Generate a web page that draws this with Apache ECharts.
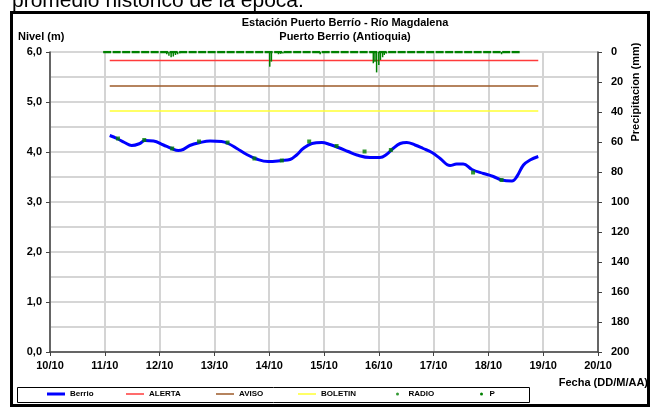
<!DOCTYPE html>
<html>
<head>
<meta charset="utf-8">
<script src="https://cdn.jsdelivr.net/npm/echarts@6/dist/echarts.min.js"></script>
<style>
  html, body { margin: 0; padding: 0; background: #fff; }
  #chart { width: 650px; height: 407px; }
</style>
</head>
<body>
<div id="chart"></div>
<script>
// nivel Berrio (dia del mes, metros)
const berrioDays = [11.09, 11.22, 11.36, 11.49, 11.64, 11.73, 11.89, 12.07, 12.22, 12.34, 12.43, 12.55, 12.74, 12.92, 13.13, 13.25, 13.41, 13.59, 13.77, 13.98, 14.23, 14.38, 14.5, 14.62, 14.78, 14.96, 15.11, 15.26, 15.44, 15.6, 15.84, 16.02, 16.14, 16.26, 16.39, 16.51, 16.66, 16.81, 16.97, 17.12, 17.3, 17.42, 17.54, 17.7, 17.91, 18.09, 18.24, 18.43, 18.52, 18.64, 18.76, 18.91]
const berrioVals = [4.33, 4.27, 4.19, 4.13, 4.17, 4.23, 4.22, 4.14, 4.07, 4.03, 4.05, 4.13, 4.19, 4.22, 4.21, 4.17, 4.07, 3.95, 3.86, 3.81, 3.83, 3.85, 3.94, 4.07, 4.17, 4.19, 4.15, 4.09, 4.01, 3.94, 3.89, 3.89, 3.95, 4.07, 4.17, 4.19, 4.14, 4.07, 3.99, 3.87, 3.73, 3.76, 3.76, 3.65, 3.57, 3.51, 3.44, 3.42, 3.51, 3.74, 3.84, 3.91]

// lecturas RADIO
const radioDays = [11.24, 11.72, 12.23, 12.72, 13.24, 13.73, 14.23, 14.73, 15.23, 15.74, 16.22, 17.72, 18.24]
const radioVals = [4.27, 4.24, 4.07, 4.21, 4.19, 3.87, 3.83, 4.21, 4.12, 4.01, 4.04, 3.59, 3.44]

// umbrales
const alerta = 5.83
const aviso = 5.32
const boletin = 4.82
const umbralDesde = 11.09
const umbralHasta = 18.91

// precipitacion (mm)
const pDesde = 10.97
const pHasta = 18.58
const pDays = [12.13, 12.17, 12.21, 12.25, 12.29, 12.33, 12.37, 14.01, 14.04, 14.17, 14.21, 14.25, 14.93, 15.9, 15.93, 15.96, 16.0, 16.03, 16.07, 16.1, 16.14, 18.24]
const pVals = [1.5, 2.5, 3.5, 3, 2, 1.5, 0.8, 9.8, 6.4, 1.5, 1.2, 1, 1.5, 7.5, 6.5, 13.6, 8.7, 5.3, 3.5, 2, 1, 1.5]

const font = 'Liberation Sans, Arial, sans-serif'
const zip = (a, b) => a.map((v, i) => [v, b[i]])

const chart = echarts.init(document.getElementById('chart'))

const umbral = (name, value, color) => ({
  name: name,
  type: 'line',
  symbol: 'none',
  data: [[umbralDesde, value], [umbralHasta, value]],
  lineStyle: { color: color, width: 1.5 },
  itemStyle: { color: color },
  z: 2
})

// una leyenda por item, para repartirlos como en el original
const leyenda = (name, left, icon, w, h) => ({
  left: left, top: 390,
  padding: 0,
  icon: icon,
  itemWidth: w, itemHeight: h,
  textStyle: { fontSize: 8, fontWeight: 'bold', color: '#000', fontFamily: font },
  data: [name]
})

chart.setOption({
  animation: false,
  textStyle: { fontFamily: font },
  grid: { left: 50, right: 52, top: 52, bottom: 55 },
  graphic: [
    {
      type: 'rect',
      shape: { x: 11.5, y: 12.5, width: 637, height: 393 },
      style: { fill: 'none', stroke: '#000', lineWidth: 3 },
      silent: true
    },
    {
      type: 'rect',
      shape: { x: 17.5, y: 387.5, width: 512, height: 15 },
      style: { fill: 'none', stroke: '#000', lineWidth: 1 },
      silent: true
    },
    {
      type: 'text', left: 12, top: -9,
      style: { text: 'promedio histórico de la época.', font: '21px ' + font, fill: '#000' }
    },
    {
      type: 'text', x: 345, y: 16,
      style: {
        text: 'Estación Puerto Berrío - Río Magdalena\nPuerto Berrio (Antioquia)',
        font: 'bold 11px ' + font, fill: '#000', align: 'center', lineHeight: 14
      }
    },
    {
      type: 'text', x: 18, y: 31,
      style: { text: 'Nivel (m)', font: 'bold 11px ' + font, fill: '#000' }
    },
    {
      type: 'text', x: 648, y: 377,
      style: { text: 'Fecha (DD/M/AA)', font: 'bold 11px ' + font, fill: '#000', align: 'right' }
    },
    {
      type: 'text', x: 636, y: 92, rotation: Math.PI / 2,
      style: { text: 'Precipitacion (mm)', font: 'bold 11px ' + font, fill: '#000', align: 'center', verticalAlign: 'middle' }
    }
  ],
  legend: [
    leyenda('Berrio', 47, 'rect', 18, 3),
    leyenda('ALERTA', 126, 'rect', 18, 1.5),
    leyenda('AVISO', 216, 'rect', 18, 1.5),
    leyenda('BOLETIN', 298, 'rect', 18, 1.5),
    leyenda('RADIO', 396, 'circle', 12, 3),
    leyenda('P', 480, 'circle', 6, 3)
  ],
  xAxis: {
    type: 'value',
    min: 10, max: 20, interval: 1,
    axisLine: { lineStyle: { color: '#404040', width: 1.5 } },
    axisTick: { show: true, length: 4, lineStyle: { color: '#404040' } },
    axisLabel: { formatter: v => v + '/10', fontSize: 11, fontWeight: 'bold', color: '#000', margin: 8 },
    splitLine: { show: true, lineStyle: { color: '#d4d4d4', width: 2 } }
  },
  yAxis: [
    {
      type: 'value',
      min: 0, max: 6, interval: 1,
      axisLine: { show: true, lineStyle: { color: '#404040', width: 1.5 } },
      axisTick: { show: true, length: 4, lineStyle: { color: '#404040' } },
      axisLabel: { formatter: v => v.toFixed(1).replace('.', ','), fontSize: 11, fontWeight: 'bold', color: '#000', margin: 8 },
      splitLine: { show: true, lineStyle: { color: '#c8c8c8', width: 1.5 } },
      minorTick: { show: false, splitNumber: 2 },
      minorSplitLine: { show: true, lineStyle: { color: '#c8c8c8', width: 1.5 } }
    },
    {
      type: 'value',
      min: 0, max: 200, interval: 20,
      inverse: true,
      position: 'right',
      axisLine: { show: true, lineStyle: { color: '#404040', width: 1.5 } },
      axisTick: { show: true, length: 4, lineStyle: { color: '#404040' } },
      axisLabel: { fontSize: 11, fontWeight: 'bold', color: '#000', margin: 13 },
      splitLine: { show: false }
    }
  ],
  series: [
    {
      name: 'Berrio',
      type: 'line',
      smooth: 0.4,
      symbol: 'none',
      data: zip(berrioDays, berrioVals),
      lineStyle: { color: '#0000ff', width: 3 },
      itemStyle: { color: '#0000ff' },
      z: 3
    },
    umbral('ALERTA', alerta, '#ff3b3b'),
    umbral('AVISO', aviso, '#9c5a28'),
    umbral('BOLETIN', boletin, '#ffff33'),
    {
      name: 'RADIO',
      type: 'scatter',
      symbol: 'rect',
      symbolSize: 4,
      data: zip(radioDays, radioVals),
      itemStyle: { color: '#008000' },
      z: 4
    },
    {
      name: 'P',
      type: 'line',
      yAxisIndex: 1,
      symbol: 'none',
      data: [[pDesde, 0], [pHasta, 0]],
      lineStyle: { color: '#008000', width: 2.5, type: [8, 1.5] },
      itemStyle: { color: '#008000' },
      z: 4
    },
    {
      name: 'P',
      type: 'bar',
      yAxisIndex: 1,
      barWidth: 1.5,
      data: zip(pDays, pVals),
      itemStyle: { color: '#008000' },
      z: 4
    }
  ]
})
</script>
</body>
</html>
